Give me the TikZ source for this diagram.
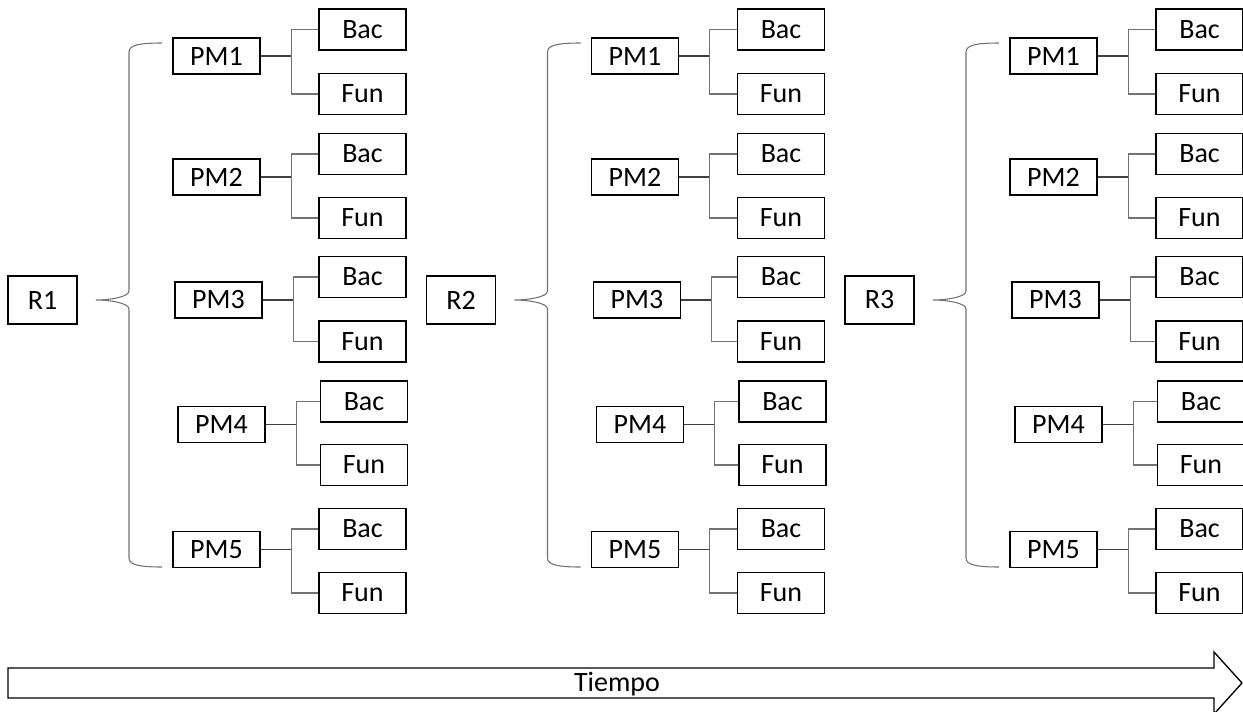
\documentclass[tikz,border=0pt]{standalone}
\usepackage{fontspec}
\setmainfont{Carlito}
\tikzset{
        box/.style={draw, line width=1.2pt, inner sep=0pt, font=\fontsize{21}{25}\selectfont},
        rbox/.style={box, minimum width=51.75pt, minimum height=36pt},
        pmbox/.style={box, minimum width=65.25pt, minimum height=27pt},
        leaf/.style={box, minimum width=65.25pt, minimum height=30.75pt},
        stem/.style={black!75, line width=0.8pt},
        branch/.style={black!55, line width=0.8pt},
}

\begin{document}
\begin{tikzpicture}[x=0.75pt, y=-0.75pt]
        \useasboundingbox (0,0) rectangle (1243,711);
        \foreach \g/\dx in {1/0, 2/418.5, 3/837} {
                \node [rbox] (R\g) at (42.5+\dx, 300) {R\g};
                \draw [branch] (162+\dx,43) .. controls (140+\dx,43) and (129+\dx,45) .. (129+\dx,52)
                        -- (129+\dx,291) .. controls (129+\dx,297) and (110+\dx,300) .. (96+\dx,300)
                        .. controls (110+\dx,300) and (129+\dx,303) .. (129+\dx,309)
                        -- (129+\dx,558) .. controls (129+\dx,565) and (140+\dx,567) .. (162+\dx,567);
                \foreach \i/\px/\py/\lx/\by/\fy in {1/216.5/56/362.5/29.5/94, 2/216.5/177/362.5/154/218,
                                3/218.5/300/362.5/277/341.5, 4/221.5/424.5/364/401.5/465,
                                5/216.5/549.5/362.5/529/593} {
                        \node [pmbox] (P\g\i) at (\px+\dx, \py) {PM\i};
                        \node [leaf] (B\g\i) at (\lx+\dx, \by) {Bac};
                        \node [leaf] (F\g\i) at (\lx+\dx, \fy) {Fun};
                        \draw [stem] (P\g\i.east) -- ++(30.5,0) coordinate (J\g\i);
                        \draw [branch] (B\g\i.west) -| (J\g\i) |- (F\g\i.west);
                }
        }
        \draw [line width=1pt] (8,668) -- (1214,668) -- (1214,652) -- (1242,683)
                -- (1214,714) -- (1214,698) -- (8,698) -- cycle;
        \node [anchor=base, inner sep=0pt, font=\fontsize{21}{25}\selectfont] (tiempo) at (617,691) {Tiempo};
\end{tikzpicture}
\end{document}
